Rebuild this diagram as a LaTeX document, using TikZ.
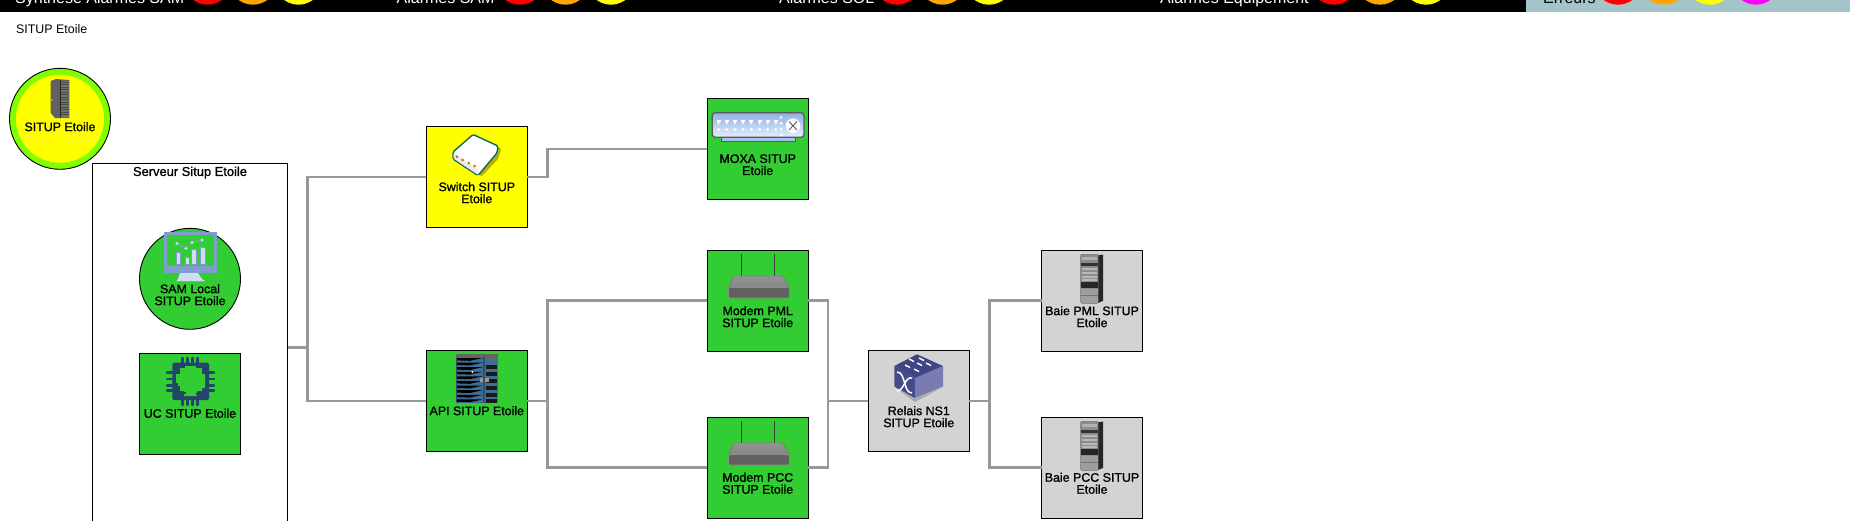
\documentclass[tikz,border=0pt]{standalone}
\usepackage{fontspec}
\setmainfont{Liberation Sans}
\newfontfamily\lblfont[FakeBold=1.2]{Liberation Sans}
\definecolor{grn}{HTML}{32CD32}
\definecolor{chartr}{HTML}{7FFF00}
\definecolor{lgray}{HTML}{D3D3D3}
\definecolor{panel}{HTML}{A3C4C9}
\definecolor{orng}{HTML}{FFA500}
\definecolor{yel}{HTML}{FFFF00}
\definecolor{mag}{HTML}{FF00FF}
\definecolor{rd}{HTML}{FF0000}
\definecolor{wire}{HTML}{989898}
\definecolor{monblue}{HTML}{7F9DCF}
\definecolor{monlight}{HTML}{CFDDF2}
\definecolor{chip}{HTML}{24456B}
\definecolor{apiblue}{HTML}{3F6E96}
\definecolor{apiframe}{HTML}{2C4F6E}
\definecolor{tealdk}{HTML}{0E6B5E}
\definecolor{shadowy}{HTML}{B8B000}
\definecolor{rackolive}{HTML}{6E7468}
\definecolor{cubeL}{HTML}{454C8E}
\definecolor{cubeR}{HTML}{7B7BB2}
\definecolor{cubeT}{HTML}{3F4684}
\definecolor{moxatop}{HTML}{92B0E3}
\definecolor{moxabot}{HTML}{E4EEFC}
\definecolor{moxabase}{HTML}{A9C2EA}
\tikzset{
  x=1pt,y=-1pt,
  devbox/.style={draw=black,line width=1.2pt,minimum width=101pt,minimum height=101pt,inner sep=0pt,outer sep=0pt},
  devdisc/.style={circle,draw=black,line width=0.9pt,minimum size=101pt,inner sep=0pt,outer sep=0pt},
  link/.style={draw=wire,line width=2.5pt,line join=miter},
  lbl/.style={font=\lblfont\fontsize{12.4}{12}\selectfont,align=center,inner sep=0pt,text=black},
  barlbl/.style={font=\fontsize{16}{16}\selectfont,anchor=base west,inner sep=0pt},
  lamp/.style={circle,minimum size=48pt,inner sep=0pt,draw=none},
}
\newcommand{\modemicon}{%
  \draw[line width=1.3pt,color=black!75] (741.7,254)--(741.7,276);
  \draw[line width=1.3pt,color=black!75] (774.3,254)--(774.3,276);
  \fill[rounded corners=1pt,draw=black!50,line width=.7pt,top color=black!42,bottom color=black!48]
     (734,276)--(782.5,276)--(789.5,287.5)--(728.5,287.5)--cycle;
  \fill[rounded corners=1.5pt,draw=black!45,line width=.7pt,fill=black!62]
     (728.5,287.5) rectangle (789.5,298);
}
\newcommand{\baieicon}{%
  \fill[black!85] (1097,255.5)--(1103,254.5)--(1103,301)--(1097,303.3)--cycle;
  \fill[black!45,draw=black!55,line width=.5pt,rounded corners=1pt] (1080.7,254.3) rectangle (1098,303.3);
  \fill[black!30] (1082,257) rectangle (1097,259.5);
  \fill[black!80] (1081,263) rectangle (1098,266);
  \foreach \yy in {268,272,276,279}{\fill[black!28] (1082,\yy) rectangle (1097,\yy+2);}
  \fill[black!85] (1081,281.7) rectangle (1098,288.3);
  \fill[black!38] (1081,289) rectangle (1098,302.5);
  \draw[black!55,line width=.4pt] (1081,295)--(1098,295);
}
\begin{document}
\begin{tikzpicture}
\useasboundingbox (0,0) rectangle (1850,520);
\fill[white] (0,0) rectangle (1850,520);
% top bars
\begin{scope}
\clip (0,0) rectangle (1850,12);
\fill[black] (0,0) rectangle (1526,12);
\fill[panel] (1526,0) rectangle (1850,12);
\node[barlbl,text=white] (tsyn) at (15,3.4) {Synthèse Alarmes SAM};
\node[barlbl,text=white] (tsam) at (396.5,3.4) {Alarmes SAM};
\node[barlbl,text=white] (tsol) at (779,3.4) {Alarmes SOL};
\node[barlbl,text=white] (tequ) at (1160,3.4) {Alarmes Equipement};
\node[barlbl,text=black] (terr) at (1543,3.4) {Erreurs};
\foreach \n/\xa/\xb/\xc in {a/207.5/253/298.5,b/520/565.5/611,c/897/942.5/989,d/1334/1380/1426,e/1618/1664/1710}{
  \node[lamp,fill=rd] (l\n1) at (\xa,-19.3) {};
  \node[lamp,fill=orng] (l\n2) at (\xb,-19.3) {};
  \node[lamp,fill=yel] (l\n3) at (\xc,-19.3) {};
}
\node[lamp,fill=mag] (le4) at (1756,-19.3) {};
\end{scope}
\node[font=\fontsize{12.4}{12}\selectfont,anchor=west,inner sep=0pt] (title) at (16,28.7) {SITUP Etoile};
% containers and devices
\node[devbox,line width=1pt,fill=white,minimum width=195pt,minimum height=368.8pt] (srv) at (190,347.7) {};
\node[devdisc,fill=chartr] (root) at (60,118.8) {};
\node[circle,fill=yel,minimum size=88pt,inner sep=0pt] (rootin) at (60,118.8) {};
\node[devdisc,fill=grn] (sam) at (190,278.8) {};
\node[devbox,fill=grn] (uc) at (190,403.8) {};
\node[devbox,fill=yel] (sw) at (476.8,177.2) {};
\node[devbox,fill=grn] (api) at (476.8,401) {};
\node[devbox,fill=grn] (moxa) at (757.7,149) {};
\node[devbox,fill=grn] (pml) at (757.7,300.7) {};
\node[devbox,fill=grn] (pcc) at (757.7,467.7) {};
\node[devbox,fill=lgray] (rel) at (918.8,400.8) {};
\node[devbox,fill=lgray] (bpml) at (1092,300.7) {};
\node[devbox,fill=lgray] (bpcc) at (1092,467.7) {};
% connector junctions
\coordinate (j1) at (307.5,347.7);
\coordinate (j2) at (547.5,177.2);
\coordinate (j3) at (547.5,401);
\coordinate (j4) at (828.2,400.8);
\coordinate (j5) at (989.6,400.8);
\draw[link] (srv.east) -- (j1) |- (sw.west);
\draw[link] (j1) |- (api.west);
\draw[link] (sw.east) -- (j2) |- (moxa.west);
\draw[link] (api.east) -- (j3) |- (pml.west);
\draw[link] (j3) |- (pcc.west);
\draw[link] (pml.east) -| (j4);
\draw[link] (pcc.east) -| (j4);
\draw[link] (j4) -- (rel.west);
\draw[link] (rel.east) -- (j5) |- (bpml.west);
\draw[link] (j5) |- (bpcc.west);
% root rack icon
\fill[black!62] (50.7,81) -- (56,79) -- (69.3,80) -- (69.3,118) -- (55,118) -- (50.7,113) -- cycle;
\fill[rackolive] (60,80.5) rectangle (69,117.5);
\foreach \yy in {82,84.5,...,116}{\draw[black!70,line width=.6pt] (61,\yy)--(68.5,\yy);}
\draw[black!85,line width=.8pt] (60,80)--(60,118);
\fill[black!45] (52,100) circle (1.4pt);
% SAM monitor
\draw[monblue,line width=3pt] (165.8,233.8) rectangle (215.8,268);
\fill[monblue] (164.3,266) rectangle (217.3,272.7);
\fill[monlight] (180,273)--(198,273)--(202,279)--(206,281.5)--(176,281.5)--(178,279)--cycle;
\fill[monblue] (176,280.5) rectangle (206,282);
\fill[monlight,draw=monblue,line width=.8pt] (176,252) rectangle (180.5,264.8);
\fill[monlight,draw=monblue,line width=.8pt] (185,257) rectangle (189,264.8);
\fill[monlight,draw=monblue,line width=.8pt] (191.7,249) rectangle (196,264.8);
\fill[monlight,draw=monblue,line width=.8pt] (200,247) rectangle (205,264.8);
\draw[monblue,line width=1pt] (177,243.5)--(186,248.5)--(192,242.5)--(202,240);
\foreach \p in {(177,243.5),(186,248.5),(192,242.5),(202,240)}{\fill[monlight] \p circle (1.6pt);}
% chip
\fill[chip,rounded corners=2pt] (172.3,362.7) rectangle (209,400);
\fill[grn] (180,368)--(185,368)--(185,366)--(196,366)--(196,368)--(202,368)--(202,374)--(205,374)--(205,388)--(202,388)--(202,391)--(197,391)--(197,396)--(184,396)--(184,391)--(180,391)--(180,386)--(176,386)--(176,374)--(180,374)--cycle;
\draw[chip,line width=1.6pt] (177,383)--(177,393)--(186,393);
\draw[chip,line width=1.6pt] (204,388)--(204,394)--(196,394);
\draw[chip,line width=1.6pt] (184,367)--(178,367)--(178,372);
\draw[chip,line width=1.6pt] (197,367)--(203,367)--(203,372);
\foreach \xx in {182.5,187.5,192.5,197.5}{\draw[chip,line width=2.8pt,line cap=round] (\xx,358)--(\xx,363);\draw[chip,line width=2.8pt,line cap=round] (\xx,400)--(\xx,405);}
\foreach \yy in {372.5,379,385.5,390.5}{\draw[chip,line width=2.8pt,line cap=round] (167,\yy)--(172,\yy);\draw[chip,line width=2.8pt,line cap=round] (209,\yy)--(214,\yy);}
% switch icon
\fill[shadowy] (497,146)--(501,149)--(498,159)--(482,176)--(477,174)--cycle;
\draw[draw=tealdk,line width=1.4pt,fill=white,rounded corners=1.5pt,line join=round] (473,134.5)--(498,146)--(497,153)--(478,175.5)--(453,159)--(453,152)--cycle;
\fill[white!92!black] (453.8,153)--(478,169.5)--(477.5,174.5)--(453.8,158.6)--cycle;
\foreach \p in {(456.8,156.7),(462.5,160),(468.8,163),(474.5,166)}{\fill[orng!75!black] \p circle (1.5pt);}
% API icon
\fill[black!60] (456,354) rectangle (498.3,356.5);
\fill[apiframe] (456,356.5) rectangle (498.3,403.3);
\fill[apiblue] (456.5,357) rectangle (497.8,403);
\foreach \yy in {358,362.6,367.2,371.8,376.4,381,385.6,390.2,394.8,399.4}{
  \fill[black] (457,\yy)--(482.5,\yy)--(470,\yy+2.8)--(457,\yy+2.4)--cycle;
}
\foreach \yy in {365,372,379,386,393,399}{\fill[black!90] (486,\yy) rectangle (497,\yy+3.6);}
\fill[black!60] (486,357.5) rectangle (497,359.5);
\fill[apiframe] (483.2,356.5) rectangle (485.2,403.3);
\fill[black!40] (479.5,378) rectangle (483,381.5);\fill[black!40] (485,378) rectangle (489,381.5);
\fill[white] (472.5,372) circle (1.2pt);
% Moxa icon
\fill[moxabase,draw=black!65,line width=.8pt] (721.7,137) rectangle (795,141);
\draw[draw=black!65,line width=1.3pt,rounded corners=3pt,top color=moxatop,bottom color=moxabot] (712.3,112.7) rectangle (804,137.3);
\foreach \i in {0,...,7}{
  \fill[white] (716.5+\i*8.2,120) rectangle (720.5+\i*8.2,122.2);
  \fill[white] (718.5+\i*8.2,123.2) circle (1.3pt);
  \fill[white] (718.5+\i*8.2,129.5) circle (1.5pt);
}
\foreach \yy in {117.3,123.3,129,135}{\fill[white] (781,\yy) circle (1.5pt);}
\fill[white] (793,125.7) circle (7.3pt);
\draw[black!65,line width=.9pt] (789,121.5)--(797,130) (797,121.5)--(789,130);
% modems
\modemicon
\begin{scope}[shift={(0,167)}]\modemicon\end{scope}
% relay cube
\fill[black!35] (896,388)--(915,399)--(941,388)--(915,402)--cycle;
\fill[cubeL] (894.3,366)--(915,378)--(915,398.3)--(894.3,386.5)--cycle;
\fill[cubeR] (943,366)--(915,378)--(915,398.3)--(943,386.5)--cycle;
\fill[cubeT] (894.3,366)--(917,354.3)--(943,366)--(915,378)--cycle;
\draw[white,line width=1.5pt] (897,372) .. controls (906,372) and (903,393) .. (912,393);
\draw[white,line width=1.5pt] (897,391) .. controls (904,391) and (905,376) .. (912,378);
\foreach \ax/\ay in {909/359,917/363,905/365,914/369,919/358,926/363}{\draw[white,line width=1.4pt] (\ax,\ay)--++(5,2.5);}
% racks
\baieicon
\begin{scope}[shift={(0,167)}]\baieicon\end{scope}
% labels
\node[lbl] (trt) at (60,126.7) {SITUP Etoile};
\node[lbl,font=\lblfont\fontsize{12.9}{12}\selectfont] (tsrv) at (190,172.6) {Serveur Situp Etoile};
\node[lbl] (tsamm) at (190,294.7) {SAM Local\\SITUP Etoile};
\node[lbl] (tuc) at (190,413.3) {UC SITUP Etoile};
\node[lbl] (tsw) at (476.8,192.7) {Switch SITUP\\Etoile};
\node[lbl] (tapi) at (476.8,410.7) {API SITUP Etoile};
\node[lbl] (tmox) at (757.7,164.7) {MOXA SITUP\\Etoile};
\node[lbl] (tpml) at (757.7,316.7) {Modem PML\\SITUP Etoile};
\node[lbl] (tpcc) at (757.7,483.3) {Modem PCC\\SITUP Etoile};
\node[lbl] (trel) at (918.8,416.7) {Relais NS1\\SITUP Etoile};
\node[lbl] (tbp) at (1092,316.7) {Baie PML SITUP\\Etoile};
\node[lbl] (tbc) at (1092,483.3) {Baie PCC SITUP\\Etoile};
\end{tikzpicture}
\end{document}
